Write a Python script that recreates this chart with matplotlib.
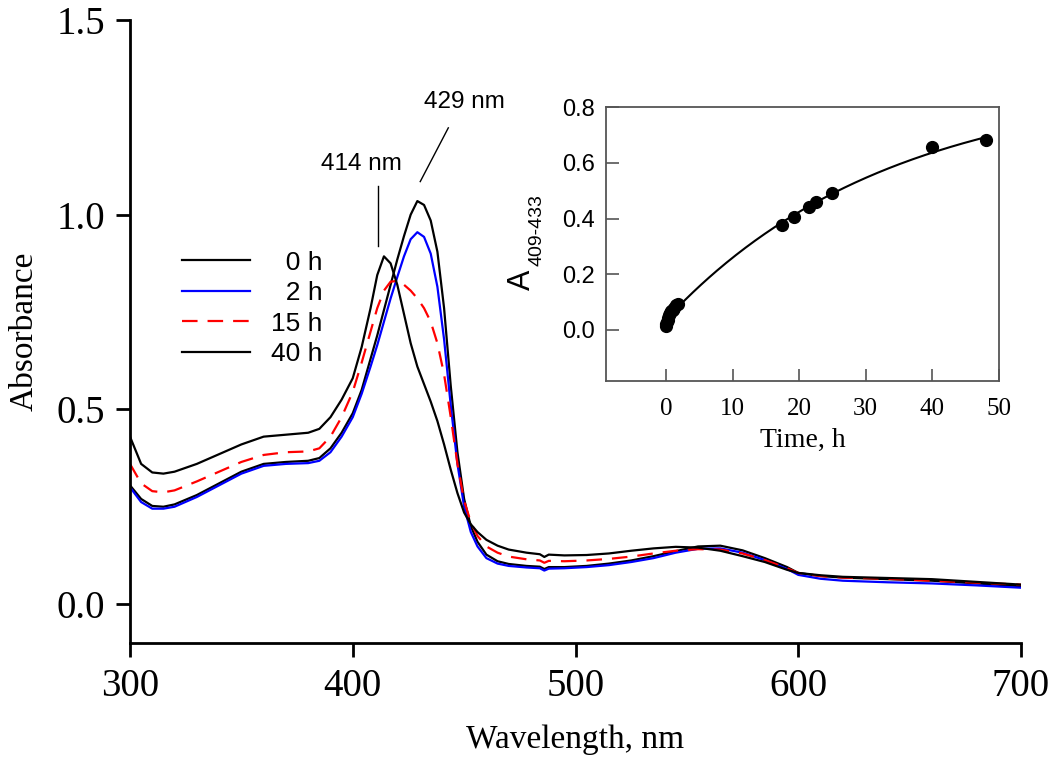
import numpy as np
import matplotlib
matplotlib.use("Agg")
from matplotlib import pyplot as plt

plt.rcParams['font.family'] = ['Liberation Serif', 'DejaVu Serif']

# spectra
wl = [300, 305, 310, 315, 320, 330, 340, 350, 360, 370, 380, 385, 390, 395, 400,
      404, 408, 411, 414, 417, 420, 423, 426, 429, 432, 435, 438, 441, 444, 447,
      450, 453, 456, 460, 465, 470, 478, 484, 486, 488, 495, 505, 515, 525, 535,
      545, 555, 565, 575, 585, 595, 600, 610, 620, 640, 660, 680, 700]

a_0h = [0.305, 0.27, 0.252, 0.25, 0.256, 0.28, 0.31, 0.34, 0.36, 0.365, 0.368, 0.375, 0.40, 0.44, 0.49,
        0.55, 0.63, 0.69, 0.755, 0.82, 0.885, 0.945, 1.0, 1.035, 1.025, 0.985, 0.905, 0.76, 0.56, 0.39,
        0.27, 0.20, 0.16, 0.127, 0.11, 0.103, 0.098, 0.096, 0.09, 0.095, 0.095, 0.098, 0.104, 0.112, 0.123,
        0.136, 0.148, 0.15, 0.138, 0.118, 0.095, 0.08, 0.072, 0.068, 0.064, 0.06, 0.053, 0.046]

a_2h = [0.30, 0.262, 0.245, 0.245, 0.25, 0.275, 0.305, 0.335, 0.355, 0.36, 0.362, 0.368, 0.39, 0.43, 0.48,
        0.54, 0.61, 0.665, 0.725, 0.785, 0.84, 0.893, 0.937, 0.955, 0.943, 0.9, 0.815, 0.68, 0.51, 0.36,
        0.25, 0.185, 0.148, 0.118, 0.104, 0.098, 0.094, 0.092, 0.086, 0.091, 0.092, 0.095, 0.10, 0.108, 0.118,
        0.132, 0.142, 0.143, 0.132, 0.113, 0.09, 0.075, 0.065, 0.06, 0.056, 0.053, 0.048, 0.042]

a_15h = [0.36, 0.31, 0.29, 0.287, 0.292, 0.315, 0.34, 0.365, 0.383, 0.39, 0.392, 0.40, 0.43, 0.48, 0.545,
         0.62, 0.70, 0.76, 0.805, 0.828, 0.83, 0.82, 0.805, 0.785, 0.76, 0.725, 0.67, 0.59, 0.48, 0.36,
         0.265, 0.21, 0.175, 0.148, 0.132, 0.122, 0.115, 0.112, 0.106, 0.111, 0.11, 0.112, 0.116, 0.122, 0.13,
         0.137, 0.141, 0.14, 0.13, 0.113, 0.092, 0.08, 0.072, 0.068, 0.065, 0.06, 0.055, 0.05]

a_40h = [0.43, 0.36, 0.338, 0.335, 0.34, 0.36, 0.385, 0.41, 0.43, 0.435, 0.44, 0.45, 0.48, 0.525, 0.58,
         0.66, 0.76, 0.845, 0.893, 0.875, 0.82, 0.745, 0.67, 0.61, 0.565, 0.52, 0.47, 0.41, 0.345, 0.285,
         0.235, 0.205, 0.185, 0.165, 0.15, 0.14, 0.132, 0.128, 0.121, 0.127, 0.125, 0.126, 0.13, 0.137, 0.143,
         0.147, 0.145, 0.137, 0.123, 0.108, 0.088, 0.08, 0.074, 0.07, 0.067, 0.064, 0.057, 0.05]

# inset kinetics
t_h = [0, 0.08, 0.17, 0.25, 0.33, 0.5, 0.67, 0.83, 1.0, 1.25, 1.5, 1.75,
       17.5, 19.2, 21.5, 22.5, 25, 40, 48]
a_diff = [0.015, 0.022, 0.03, 0.037, 0.043, 0.052, 0.06, 0.067, 0.073, 0.08, 0.088, 0.095,
          0.378, 0.405, 0.443, 0.46, 0.49, 0.655, 0.68]

fig = plt.figure(figsize=(10.5, 7.75), dpi=100)
ax = fig.add_axes([0.1238, 0.1703, 0.8486, 0.8039])

ax.plot(wl, a_0h, color='black', lw=1.6, label='  0 h')
ax.plot(wl, a_2h, color='blue', lw=1.6, label='  2 h')
ax.plot(wl, a_15h, color='red', lw=1.6, ls=(0, (7, 4.5)), label='15 h')
ax.plot(wl, a_40h, color='black', lw=1.6, label='40 h')

ax.set_xlim(300, 700)
ax.set_ylim(-0.1, 1.5)
ax.set_xticks([300, 400, 500, 600, 700])
ax.set_yticks([0.0, 0.5, 1.0, 1.5])
ax.set_yticklabels(['0.0', '0.5', '1.0', '1.5'])
ax.spines['top'].set_visible(False)
ax.spines['right'].set_visible(False)
for s in ['left', 'bottom']:
    ax.spines[s].set_linewidth(2)
ax.tick_params(direction='out', length=10, width=2, labelsize=28, pad=8)
ax.set_xlabel('Wavelength, nm', fontsize=24, labelpad=14)
ax.set_ylabel('Absorbance', fontsize=24, labelpad=12)

leg = ax.legend(loc='upper left', bbox_to_anchor=(0.058, 0.63), frameon=False,
                prop={'family': 'Liberation Sans', 'size': 19}, handlelength=2.6,
                handletextpad=0.8, labelspacing=0.25, borderpad=0, borderaxespad=0)

# peak markers
ax.plot([411.4, 411.4], [0.92, 1.074], color='black', lw=1)
ax.text(404, 1.13, '414 nm', fontsize=17.5, family='Liberation Sans', ha='center', va='center')
ax.plot([430.3, 442.9], [1.085, 1.223], color='black', lw=1)
ax.text(450, 1.29, '429 nm', fontsize=17.5, family='Liberation Sans', ha='center', va='center')

# inset
ax_in = fig.add_axes([0.5771, 0.5084, 0.3743, 0.3535])
ax_in.plot(t_h, a_diff, 'o', color='black', ms=8.5)

# single exponential fit to the points
t_arr = np.array(t_h)
y_arr = np.array(a_diff)
best = None
for k in np.linspace(0.005, 0.2, 400):
    X = np.column_stack([1 - np.exp(-k * t_arr), np.ones_like(t_arr)])
    coef, res, _, _ = np.linalg.lstsq(X, y_arr, rcond=None)
    err = np.sum((X @ coef - y_arr) ** 2)
    if best is None or err < best[0]:
        best = (err, k, coef)
_, k_fit, c_fit = best
t_fit = np.linspace(0.5, 48, 200)
ax_in.plot(t_fit, c_fit[0] * (1 - np.exp(-k_fit * t_fit)) + c_fit[1], color='black', lw=1.5)

ax_in.set_xlim(-9, 50)
ax_in.set_ylim(-0.183, 0.8)
ax_in.set_xticks([0, 10, 20, 30, 40, 50])
ax_in.set_yticks([0.0, 0.2, 0.4, 0.6, 0.8])
ax_in.set_yticklabels(['0.0', '0.2', '0.4', '0.6', '0.8'])
for s in ax_in.spines.values():
    s.set_linewidth(1.3)
    s.set_color('#555555')
ax_in.tick_params(direction='in', length=9, width=1.2, color='#555555')
ax_in.tick_params(axis='y', labelsize=17, labelfontfamily='Liberation Sans', pad=8)
ax_in.tick_params(axis='x', labelsize=18, labelfontfamily='Liberation Serif', pad=12)
ax_in.set_xlabel('Time, h', fontsize=20, labelpad=6)
ax_in.text(-0.214, 0.369, 'A', transform=ax_in.transAxes, rotation=90, fontsize=22,
           family='Liberation Sans', ha='center', va='center')
ax_in.text(-0.176, 0.551, '409-433', transform=ax_in.transAxes, rotation=90, fontsize=14,
           family='Liberation Sans', ha='center', va='center')

fig.savefig('out.png', dpi=100)
